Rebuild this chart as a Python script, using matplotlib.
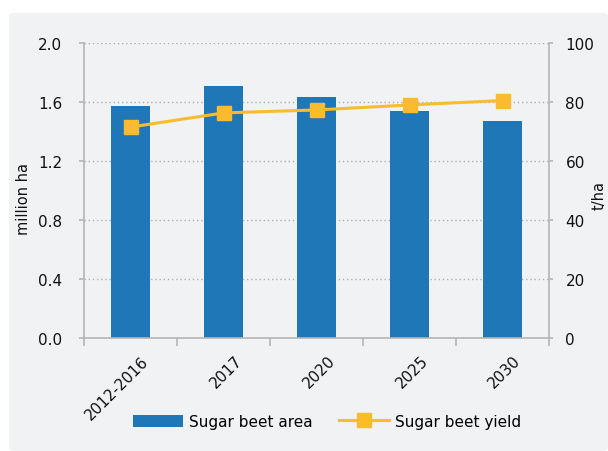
import numpy as np
import matplotlib
matplotlib.use("Agg")
import matplotlib.pyplot as plt
import matplotlib.transforms as mtransforms
from matplotlib.patches import FancyBboxPatch
from matplotlib.lines import Line2D
from matplotlib.patches import Patch

# data
years = ["2012-2016", "2017", "2020", "2025", "2030"]
area = [1.57, 1.71, 1.635, 1.54, 1.47]      # million ha
yld = [71.5, 76.3, 77.3, 79.0, 80.5]        # t/ha

bar_col = "#2077b8"
line_col = "#fbbb2f"
bg = "#f1f2f4"
spine_col = "#b5b5b5"
txt = "#111111"

plt.rcParams["font.family"] = ["DejaVu Sans"]

fig = plt.figure(figsize=(6.08, 4.52), dpi=100)
fig.patch.set_facecolor("white")
panel = FancyBboxPatch((9 / 608, 0), 1 - 9 / 608, 1 - 14 / 452,
                       boxstyle="round,pad=0,rounding_size=0.008",
                       transform=fig.transFigure, facecolor=bg,
                       edgecolor="none", zorder=-10)
fig.add_artist(panel)

ax = fig.add_axes([84 / 608, 113 / 452, (549 - 84) / 608, (339 - 44) / 452])
ax.set_facecolor("none")
x = np.arange(len(years))
ax.bar(x, area, width=0.43, color=bar_col, zorder=2)
ax.set_xlim(-0.5, len(years) - 0.5)
ax.set_ylim(0, 2.0)
yt = np.arange(0, 2.01, 0.4)
ax.set_yticks(yt)
ax.set_yticklabels([f"{v:.1f}" for v in yt])
ax.set_xticks(np.arange(-0.5, len(years), 1), minor=False)
ax.set_xticklabels([])
ax.set_xticks(x, minor=True)
ax.set_xticklabels(years, minor=True, rotation=45, ha="right", va="center",
                   rotation_mode="anchor")
ax.tick_params(axis="x", which="minor", length=0, pad=14.4, labelsize=11,
               colors=txt)
ax.tick_params(axis="x", which="major", length=5.8, color=spine_col, width=1.2)
ax.tick_params(axis="y", length=3.6, color=spine_col, width=1.2,
               labelsize=11, labelcolor=txt, pad=12)
# shift rotated year labels to the right like the reference
shift = mtransforms.ScaledTranslation(16 / 100, 0, fig.dpi_scale_trans)
for lab in ax.get_xticklabels(minor=True):
    lab.set_transform(lab.get_transform() + shift)
ax.grid(axis="y", linestyle=(0, (1, 2)), color="#b0b0b0", linewidth=1, zorder=1)
for s in ["left", "bottom"]:
    ax.spines[s].set_color(spine_col)
    ax.spines[s].set_linewidth(1.2)
ax.spines["top"].set_visible(False)
ax.spines["right"].set_visible(False)
ax.set_ylabel("million ha", fontsize=10.5, color=txt)
ax.yaxis.set_label_coords(-0.113, 0.475)

ax2 = ax.twinx()
ax2.plot(x, yld, color=line_col, linewidth=2.2, marker="s", markersize=9.4,
         zorder=3)
ax2.set_ylim(0, 100)
ax2.set_yticks(np.arange(0, 101, 20))
ax2.tick_params(axis="y", length=3.2, color=spine_col, width=1.2,
                labelsize=11, labelcolor=txt, pad=8.6)
ax2.spines["right"].set_color(spine_col)
ax2.spines["right"].set_linewidth(1.2)
for s in ["left", "bottom", "top"]:
    ax2.spines[s].set_visible(False)
ax2.set_ylabel("t/ha", fontsize=10.5, color=txt)
ax2.yaxis.set_label_coords(1.092, 0.485)

handles = [Patch(facecolor=bar_col, label="Sugar beet area"),
           Line2D([], [], color=line_col, linewidth=2.2, marker="s",
                  markersize=9.4, label="Sugar beet yield")]
fig.legend(handles=handles, loc="center", bbox_to_anchor=(0.538, 29.5 / 452),
           ncol=2, frameon=False, fontsize=11, handlelength=3.3,
           handleheight=0.83, columnspacing=1.7, handletextpad=0.4)

fig.savefig("out.png", dpi=100)
